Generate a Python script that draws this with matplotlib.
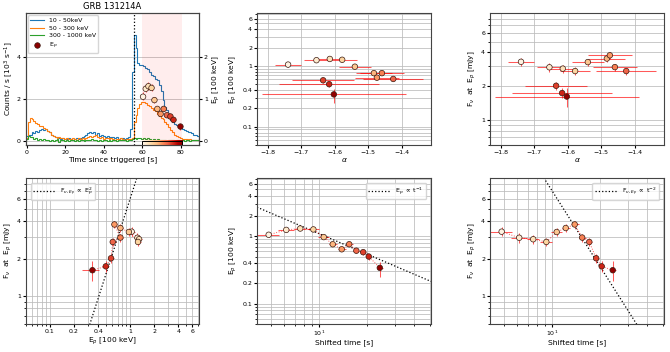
import numpy as np
import matplotlib
matplotlib.use("Agg")
import matplotlib.pyplot as plt
from matplotlib.lines import Line2D
from matplotlib.patches import Rectangle
from matplotlib.ticker import NullFormatter

plt.rcParams["font.family"] = ["DejaVu Sans"]
plt.rcParams["font.size"] = 4.5
plt.rcParams["axes.labelsize"] = 5.4
plt.rcParams["axes.linewidth"] = 0.8
plt.rcParams["axes.edgecolor"] = "#444444"
plt.rcParams["xtick.major.size"] = 2.0
plt.rcParams["ytick.major.size"] = 2.0
plt.rcParams["xtick.minor.size"] = 1.2
plt.rcParams["ytick.minor.size"] = 1.2
plt.rcParams["xtick.major.pad"] = 1.5
plt.rcParams["ytick.major.pad"] = 1.5

# ---- light curves (1 s bins, centred on integer seconds 0..89) ----
lc_t0 = -0.5
lc_soft = [0.25, 0.3, 0.3, 0.4, 0.35, 0.45, 0.4, 0.5, 0.55, 0.5,
           0.55, 0.45, 0.4, 0.3, 0.25, 0.2, 0.2, 0.15, 0.1, 0.15,
           0.1, 0.1, 0.15, 0.1, 0.05, 0.1, 0.15, 0.1, 0.15, 0.2,
           0.25, 0.3, 0.35, 0.4, 0.35, 0.4, 0.3, 0.35, 0.25, 0.3,
           0.25, 0.2, 0.25, 0.15, 0.2, 0.2, 0.15, 0.2, 0.1, 0.15,
           0.15, 0.1, 0.15, 0.2, 0.55, 3.3, 5.05, 4.4, 3.7, 3.6,
           3.6, 3.55, 3.45, 3.4, 3.3, 3.15, 3.1, 2.95, 2.9, 2.65,
           2.35, 1.95, 1.6, 1.45, 1.1, 1.0, 0.9, 0.8, 0.75, 0.65,
           0.6, 0.55, 0.5, 0.45, 0.4, 0.4, 0.35, 0.3, 0.3, 0.25]
lc_mid = [0.15, 0.9, 1.1, 1.05, 0.95, 0.85, 0.8, 0.7, 0.72, 0.6,
          0.55, 0.45, 0.4, 0.3, 0.25, 0.2, 0.15, 0.2, 0.12, 0.15,
          0.1, 0.12, 0.08, 0.1, 0.15, 0.1, 0.05, 0.12, 0.1, 0.15,
          0.1, 0.15, 0.2, 0.25, 0.2, 0.25, 0.3, 0.2, 0.15, 0.2,
          0.1, 0.15, 0.12, 0.08, 0.12, 0.1, 0.05, 0.1, 0.08, 0.12,
          0.1, 0.05, 0.1, 0.08, 0.1, 0.15, 0.9, 1.25, 1.55, 1.75,
          1.85, 1.85, 1.8, 1.7, 1.65, 1.55, 1.45, 1.4, 1.3, 1.2,
          1.1, 1.05, 0.9, 0.8, 0.65, 0.5, 0.42, 0.3, 0.22, 0.16,
          0.12, 0.1, 0.08, 0.1, 0.05, 0.08, 0.05, 0.06, 0.04, 0.05]
lc_hard = [0.1, 0.25, 0.2, 0.2, 0.1, 0.12, 0.05, 0.1, 0.05, 0.08,
           0.02, 0.06, 0.0, 0.05, -0.02, 0.04, 0.08, -0.04, 0.03, 0.06,
           0.0, 0.04, -0.03, 0.02, 0.06, -0.02, 0.03, 0.0, 0.05, 0.02,
           -0.03, 0.04, 0.06, 0.02, 0.08, 0.03, 0.05, 0.0, 0.04, -0.02,
           0.03, 0.06, 0.01, 0.04, -0.03, 0.02, 0.05, 0.0, 0.03, 0.06,
           0.02, 0.04, -0.02, 0.03, 0.05, 0.08, 0.12, 0.1, 0.15, 0.12,
           0.1, 0.14, 0.08, 0.12, 0.1, 0.06, 0.1, 0.05, 0.08, 0.04,
           0.06, 0.02, 0.05, 0.0, 0.04, 0.02, 0.05, -0.02, 0.03, 0.06,
           0.01, 0.04, 0.0, 0.03, 0.05, -0.01, 0.04, 0.02, 0.06, 0.03]

t_trig = 55.6
span = (59.6, 80.8)

# ---- time-resolved spectral fits ----
times = [60.4, 61.8, 63.2, 64.8, 66.3, 67.8, 69.5, 71.1, 72.8, 74.6, 76.2, 79.8]
t_err = [0.8, 0.7, 0.7, 0.8, 0.8, 0.7, 0.8, 0.8, 0.8, 0.9, 0.8, 1.0]
Ep = [1.05, 1.24, 1.30, 1.26, 0.97, 0.76, 0.64, 0.76, 0.61, 0.58, 0.50, 0.34]
Ep_lo = [0.08, 0.08, 0.08, 0.08, 0.06, 0.05, 0.04, 0.05, 0.05, 0.05, 0.05, 0.09]
Ep_hi = [0.12, 0.10, 0.10, 0.10, 0.07, 0.05, 0.05, 0.05, 0.05, 0.05, 0.05, 0.07]
alpha = [-1.74, -1.655, -1.615, -1.578, -1.54, -1.483, -1.474, -1.459, -1.425, -1.635, -1.617, -1.603]
alpha_err = [0.04, 0.038, 0.04, 0.045, 0.047, 0.055, 0.066, 0.066, 0.09, 0.093, 0.15, 0.215]
Fv = [3.3, 2.95, 2.87, 2.73, 3.28, 3.53, 3.77, 2.96, 2.73, 2.02, 1.74, 1.62]
Fv_err = [0.28, 0.25, 0.24, 0.22, 0.25, 0.25, 0.27, 0.22, 0.2, 0.18, 0.17, 0.3]

# reference power laws
k_ep_fv = 6.0      # Fv = k * Ep^2
k_ep_t = 10.9      # Ep = k / t
k_fv_t = 702.0     # Fv = k / t^2

ep_lim = (0.05, 7.3)
fv_lim = (0.6, 8.9)
st_lim = (4.05, 51)
al_lim = (-1.833, -1.312)
ep_ticks = [0.1, 0.2, 0.4, 1, 2, 4, 6]
fv_ticks = [1, 2, 4, 6]

cmap = plt.get_cmap("OrRd")
norm = plt.Normalize(span[0], span[1])
shifted = np.array(times) - t_trig

fig = plt.figure(figsize=(6.7, 3.52), dpi=100)
top_b, top_h = 0.588, 0.374
bot_b, bot_h = 0.0795, 0.415
ax1 = fig.add_axes([0.0384, top_b, 0.2588, top_h])
ax2 = fig.add_axes([0.3836, top_b, 0.2597, top_h])
ax3 = fig.add_axes([0.7313, top_b, 0.2597, top_h])
ax4 = fig.add_axes([0.0384, bot_b, 0.2588, bot_h])
ax5 = fig.add_axes([0.3836, bot_b, 0.2597, bot_h])
ax6 = fig.add_axes([0.7313, bot_b, 0.2597, bot_h])

grid_kw = dict(color="#bbbbbb", linewidth=0.7, alpha=0.8)
eb_kw = dict(ecolor="red", elinewidth=0.75, capsize=0, alpha=0.65)
pt_kw = dict(s=16, cmap=cmap, norm=norm, edgecolors="#3a1a10", linewidths=0.5, zorder=5)
leg_kw = dict(fontsize=4.5, handlelength=3.5, borderaxespad=0.8)

# ---- panel 1: light curves ----
edges = lc_t0 + np.arange(len(lc_soft) + 1)
ax1.stairs(lc_soft, edges, color="#1f77b4", lw=0.8, label="10 - 50keV")
ax1.stairs(lc_mid, edges, color="#ff7f0e", lw=0.8, label="50 - 300 keV")
ax1.stairs(lc_hard, edges, color="#2ca02c", lw=0.8, label="300 - 1000 keV")
ax1.axvspan(span[0], span[1], color="red", alpha=0.07, lw=0)
ax1.axvline(t_trig, color="k", ls=":", lw=0.9)
grad = np.linspace(0, 1, 256).reshape(1, -1)
ax1.imshow(grad, extent=[span[0], span[1], -0.2, 0.0], aspect="auto", cmap=cmap, zorder=3)
ax1.add_patch(Rectangle((span[0], -0.2), span[1] - span[0], 0.2, fill=False, ec="k", lw=0.7, zorder=4))
ax1.set_xlim(-0.5, 89.5)
ax1.set_ylim(-0.2, 6.07)
ax1.set_yticks([0, 2, 4])
ax1.set_xticks([0, 20, 40, 60, 80])
ax1.yaxis.grid(True, **grid_kw)
ax1.set_axisbelow(True)
ax1.set_xlabel("Time since triggered [s]", labelpad=1)
ax1.set_ylabel("Counts / s [10$^3$ s$^{-1}$]", labelpad=1.5)
ax1.set_title("GRB 131214A", fontsize=6.0, pad=3)

ax1b = ax1.twinx()
eb = ax1b.errorbar(times, Ep, yerr=[Ep_lo, Ep_hi], fmt="none", **eb_kw)
eb[2][0].set_linestyle("--")
ax1b.scatter(times, Ep, c=times, **pt_kw)
ax1b.set_ylim(-0.1, 3.035)
ax1b.set_yticks([0, 1, 2])
ax1b.set_ylabel("E$_p$ [100 keV]", labelpad=2)
h, l = ax1.get_legend_handles_labels()
h.append(Line2D([], [], ls="none", marker="o", ms=4.0, mfc="#8b0000", mec="#3a1a10", mew=0.5))
l.append("E$_p$")
ax1.legend(h, l, loc="upper left", fontsize=4.5, handlelength=2.2, borderaxespad=0.3, labelspacing=0.35)

# ---- panel 2: Ep vs alpha ----
ax2.errorbar(alpha, Ep, xerr=alpha_err, yerr=[Ep_lo, Ep_hi], fmt="none", **eb_kw)
ax2.scatter(alpha, Ep, c=times, **pt_kw)
ax2.set_yscale("log")
ax2.set_ylim(*ep_lim)
ax2.set_xlim(*al_lim)
ax2.set_yticks(ep_ticks)
ax2.set_yticklabels([str(v) for v in ep_ticks])
ax2.yaxis.set_minor_formatter(NullFormatter())
ax2.grid(True, which="both", **grid_kw)
ax2.set_axisbelow(True)
ax2.set_xlabel(r"$\alpha$", labelpad=1)
ax2.set_ylabel("E$_p$ [100 keV]", labelpad=2)

# ---- panel 3: Fv vs alpha ----
ax3.errorbar(alpha, Fv, xerr=alpha_err, yerr=Fv_err, fmt="none", **eb_kw)
ax3.scatter(alpha, Fv, c=times, **pt_kw)
ax3.set_yscale("log")
ax3.set_ylim(*fv_lim)
ax3.set_xlim(*al_lim)
ax3.set_yticks(fv_ticks)
ax3.set_yticklabels([str(v) for v in fv_ticks])
ax3.yaxis.set_minor_formatter(NullFormatter())
ax3.grid(True, which="both", **grid_kw)
ax3.set_axisbelow(True)
ax3.set_xlabel(r"$\alpha$", labelpad=1)
ax3.set_ylabel(r"F$_\nu$  at  E$_p$ [mJy]", labelpad=2)

# ---- panel 4: Fv vs Ep ----
ep_line = np.array([0.2, 2.0])
ax4.plot(ep_line, k_ep_fv * ep_line ** 2, "k:", lw=0.9, label=r"F$_{\nu,E_p}$ $\propto$ E$_p^2$")
ax4.errorbar(Ep, Fv, xerr=[Ep_lo, Ep_hi], yerr=Fv_err, fmt=":", color="red", lw=0.7, **eb_kw)
ax4.scatter(Ep, Fv, c=times, **pt_kw)
ax4.set_xscale("log")
ax4.set_yscale("log")
ax4.set_xlim(*ep_lim)
ax4.set_ylim(*fv_lim)
ax4.set_xticks(ep_ticks)
ax4.set_xticklabels([str(v) for v in ep_ticks])
ax4.set_yticks(fv_ticks)
ax4.set_yticklabels([str(v) for v in fv_ticks])
ax4.xaxis.set_minor_formatter(NullFormatter())
ax4.yaxis.set_minor_formatter(NullFormatter())
ax4.grid(True, which="both", **grid_kw)
ax4.set_axisbelow(True)
ax4.set_xlabel("E$_p$ [100 keV]", labelpad=1)
ax4.set_ylabel(r"F$_\nu$  at  E$_p$ [mJy]", labelpad=2)
ax4.legend(loc="upper left", **leg_kw)

# ---- panel 5: Ep vs shifted time ----
t_line = np.array(st_lim)
ax5.plot(t_line, k_ep_t / t_line, "k:", lw=0.9, label=r"E$_p$ $\propto$ t$^{-1}$")
ax5.errorbar(shifted, Ep, xerr=t_err, yerr=[Ep_lo, Ep_hi], fmt=":", color="red", lw=0.7, **eb_kw)
ax5.scatter(shifted, Ep, c=times, **pt_kw)
ax5.set_xscale("log")
ax5.set_yscale("log")
ax5.set_xlim(*st_lim)
ax5.set_ylim(*ep_lim)
ax5.set_yticks(ep_ticks)
ax5.set_yticklabels([str(v) for v in ep_ticks])
ax5.yaxis.set_minor_formatter(NullFormatter())
ax5.grid(True, which="both", **grid_kw)
ax5.set_axisbelow(True)
ax5.set_xlabel("Shifted time [s]", labelpad=1)
ax5.set_ylabel("E$_p$ [100 keV]", labelpad=2)
ax5.legend(loc="upper right", **leg_kw)

# ---- panel 6: Fv vs shifted time ----
t_line2 = np.array([8.0, 40.0])
ax6.plot(t_line2, k_fv_t / t_line2 ** 2, "k:", lw=0.9, label=r"F$_{\nu,E_p}$ $\propto$ t$^{-2}$")
ax6.errorbar(shifted, Fv, xerr=t_err, yerr=Fv_err, fmt=":", color="red", lw=0.7, **eb_kw)
ax6.scatter(shifted, Fv, c=times, **pt_kw)
ax6.set_xscale("log")
ax6.set_yscale("log")
ax6.set_xlim(*st_lim)
ax6.set_ylim(*fv_lim)
ax6.set_yticks(fv_ticks)
ax6.set_yticklabels([str(v) for v in fv_ticks])
ax6.yaxis.set_minor_formatter(NullFormatter())
ax6.grid(True, which="both", **grid_kw)
ax6.set_axisbelow(True)
ax6.set_xlabel("Shifted time [s]", labelpad=1)
ax6.set_ylabel(r"F$_\nu$  at  E$_p$ [mJy]", labelpad=2)
ax6.legend(loc="upper right", **leg_kw)

fig.savefig("out.png", dpi=100)
